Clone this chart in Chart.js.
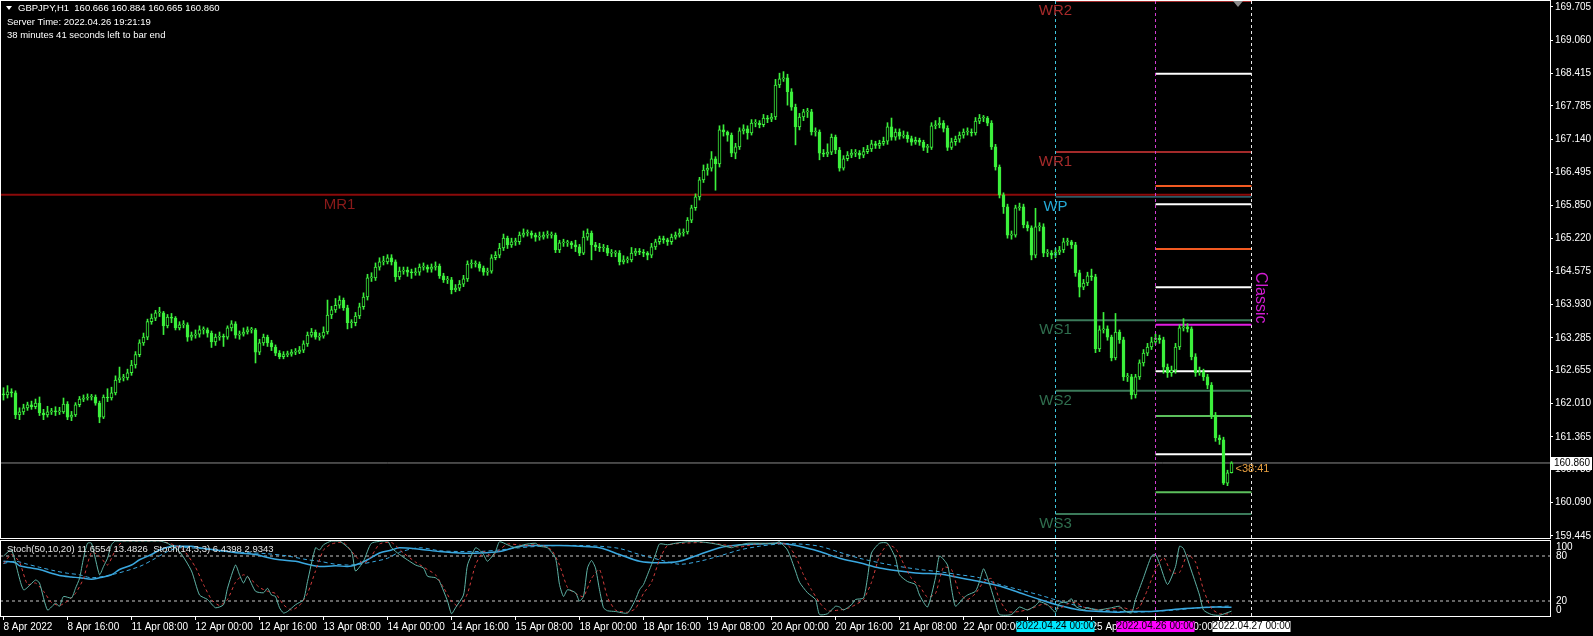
<!DOCTYPE html>
<html lang="en">
<head>
<meta charset="UTF-8">
<title>GBPJPY,H1</title>
<style>
  html, body { margin: 0; padding: 0; background: #000; overflow: hidden; }
  #price { position: absolute; left: 0; top: 0; }
  #stoch { position: absolute; left: 0; top: 539px; }
</style>
</head>
<body>
<canvas id="price" width="1593" height="539"></canvas>
<canvas id="stoch" width="1593" height="97"></canvas>
<script src="https://cdn.jsdelivr.net/npm/chart.js@4.4.0/dist/chart.umd.min.js"></script>
<script>
'use strict';

// ---- data: H1 bars, 8 Apr 2022 00:00 .. 26 Apr 2022 19:00 (bar index = x) ----
var firstOpen = 162.20;
var closes = [
  162.18,162.24,162.22,161.79,161.85,161.93,161.99,161.95,162.02,161.83,
  161.79,161.85,161.87,161.85,161.85,162.00,161.75,161.79,161.99,162.10,
  162.12,162.14,162.14,162.02,161.75,162.14,162.12,162.22,162.47,162.51,
  162.51,162.61,162.76,162.96,163.19,163.30,163.60,163.67,163.77,163.77,
  163.52,163.69,163.67,163.48,163.54,163.54,163.30,163.34,163.36,163.44,
  163.44,163.38,163.21,163.30,163.32,163.30,163.48,163.56,163.34,163.36,
  163.40,163.44,163.44,163.01,163.19,163.30,163.19,163.11,162.99,162.92,
  162.96,162.97,163.01,163.01,163.05,163.17,163.34,163.40,163.30,163.32,
  163.40,163.73,163.83,163.92,164.02,163.87,163.58,163.58,163.71,163.89,
  164.08,164.45,164.45,164.66,164.76,164.76,164.84,164.76,164.47,164.58,
  164.60,164.56,164.55,164.56,164.66,164.66,164.62,164.66,164.68,164.49,
  164.41,164.41,164.22,164.25,164.33,164.43,164.72,164.72,164.72,164.64,
  164.56,164.58,164.84,164.89,165.03,165.22,165.09,165.15,165.15,165.28,
  165.32,165.32,165.28,165.24,165.24,165.28,165.28,165.28,164.99,165.13,
  165.13,165.13,165.09,165.05,164.93,165.24,165.32,165.09,165.05,165.03,
  165.03,164.93,164.93,164.93,164.76,164.80,164.80,164.93,164.97,164.95,
  164.93,164.89,165.05,165.15,165.21,165.19,165.15,165.24,165.28,165.32,
  165.34,165.57,165.81,166.02,166.35,166.54,166.58,166.76,166.66,167.32,
  167.28,167.22,166.87,166.99,167.30,167.34,167.26,167.45,167.45,167.42,
  167.55,167.53,167.57,168.19,168.31,168.33,168.06,167.76,167.38,167.57,
  167.67,167.67,167.28,167.28,166.87,166.85,166.89,167.18,166.93,166.58,
  166.76,166.83,166.87,166.87,166.83,166.90,166.95,167.05,167.02,167.06,
  167.10,167.38,167.18,167.28,167.20,167.22,167.15,167.08,167.12,167.08,
  166.98,166.98,167.40,167.42,167.45,167.35,166.98,167.09,167.14,167.22,
  167.28,167.28,167.26,167.49,167.55,167.55,167.45,166.99,166.60,166.06,
  165.83,165.28,165.28,165.81,165.83,165.48,165.42,164.89,165.44,165.44,
  164.93,164.93,164.89,164.95,164.99,165.15,165.15,165.09,164.55,164.27,
  164.35,164.49,164.47,163.07,163.44,163.46,163.30,162.90,163.40,163.25,
  162.53,162.53,162.18,162.53,162.80,162.99,163.11,163.21,163.28,163.25,
  162.72,162.61,162.66,163.11,163.48,163.50,163.46,162.92,162.61,162.63,
  162.53,162.37,161.79,161.35,161.31,160.47,160.67,160.86
];
var highs = [
  162.32,162.36,162.30,162.26,161.93,162.00,162.04,162.06,162.10,162.14,
  161.90,161.96,161.92,161.95,161.94,162.12,162.05,161.86,162.03,162.15,
  162.18,162.20,162.19,162.18,162.06,162.18,162.30,162.33,162.55,162.72,
  162.58,162.68,162.85,163.02,163.25,163.38,163.65,163.75,163.82,163.88,
  163.80,163.74,163.76,163.70,163.60,163.62,163.58,163.40,163.44,163.52,
  163.50,163.48,163.42,163.36,163.40,163.36,163.52,163.62,163.60,163.42,
  163.48,163.50,163.49,163.47,163.26,163.36,163.34,163.24,163.15,163.04,
  163.02,163.03,163.06,163.08,163.12,163.23,163.40,163.47,163.44,163.38,
  163.50,164.02,163.90,164.05,164.10,164.06,163.92,163.64,163.78,163.96,
  164.16,164.52,164.55,164.74,164.84,164.87,164.90,164.90,164.80,164.66,
  164.66,164.66,164.62,164.64,164.72,164.74,164.70,164.72,164.76,164.72,
  164.54,164.48,164.46,164.32,164.40,164.50,164.78,164.80,164.78,164.76,
  164.68,164.64,164.90,164.96,165.12,165.30,165.26,165.22,165.22,165.34,
  165.40,165.38,165.36,165.32,165.34,165.34,165.36,165.34,165.32,165.18,
  165.20,165.18,165.16,165.18,165.10,165.36,165.40,165.36,165.14,165.12,
  165.10,165.08,165.00,164.98,164.98,164.88,164.86,165.04,165.02,165.02,
  165.00,164.96,165.12,165.20,165.26,165.26,165.22,165.30,165.34,165.40,
  165.40,165.62,165.86,166.08,166.40,166.64,166.66,166.90,166.80,167.40,
  167.42,167.30,167.26,167.06,167.36,167.42,167.40,167.52,167.52,167.50,
  167.62,167.60,167.64,168.30,168.42,168.45,168.40,168.12,167.82,167.64,
  167.72,167.74,167.72,167.36,167.32,166.94,167.05,167.24,167.22,166.98,
  166.82,166.90,166.94,166.94,166.92,166.98,167.02,167.12,167.10,167.12,
  167.18,167.46,167.55,167.34,167.34,167.30,167.28,167.20,167.18,167.16,
  167.12,167.04,167.46,167.50,167.56,167.50,167.40,167.16,167.20,167.28,
  167.34,167.36,167.34,167.56,167.62,167.60,167.58,167.50,167.04,166.64,
  166.10,165.88,165.36,165.86,165.90,165.88,165.54,165.46,165.80,165.52,
  165.50,165.00,164.98,165.02,165.06,165.22,165.22,165.18,165.14,164.60,
  164.42,164.56,164.62,164.52,163.52,163.78,163.52,163.34,163.76,163.44,
  163.30,162.60,162.58,162.58,162.86,163.06,163.18,163.30,163.36,163.34,
  163.30,162.78,162.74,163.18,163.54,163.66,163.56,163.50,162.98,162.72,
  162.68,162.58,162.42,161.84,161.40,161.36,160.72,160.884
];
var lows = [
  162.08,162.12,162.14,161.72,161.70,161.80,161.88,161.90,161.91,161.78,
  161.70,161.75,161.80,161.78,161.80,161.82,161.70,161.68,161.76,161.95,
  162.05,162.08,162.08,161.98,161.64,161.72,162.05,162.08,162.18,162.42,
  162.45,162.47,162.56,162.70,162.92,163.14,163.25,163.55,163.62,163.70,
  163.35,163.48,163.58,163.44,163.44,163.48,163.22,163.24,163.28,163.30,
  163.36,163.30,163.10,163.14,163.24,163.12,163.26,163.42,163.28,163.26,
  163.32,163.36,163.38,162.80,162.96,163.14,163.12,163.04,162.94,162.88,
  162.88,162.92,162.93,162.96,162.98,163.00,163.12,163.30,163.26,163.24,
  163.28,163.36,163.66,163.78,163.86,163.82,163.46,163.48,163.52,163.66,
  163.84,164.02,164.38,164.40,164.60,164.70,164.72,164.70,164.38,164.42,
  164.52,164.48,164.44,164.50,164.50,164.60,164.56,164.56,164.60,164.44,
  164.36,164.34,164.14,164.18,164.20,164.28,164.38,164.64,164.66,164.58,
  164.50,164.50,164.54,164.80,164.84,164.98,165.02,165.04,165.08,165.10,
  165.24,165.26,165.22,165.16,165.18,165.20,165.22,165.22,164.94,164.94,
  165.06,165.06,165.02,164.96,164.88,164.90,165.18,164.80,164.98,164.96,
  164.96,164.88,164.86,164.86,164.70,164.72,164.74,164.76,164.88,164.90,
  164.86,164.80,164.84,165.00,165.10,165.12,165.08,165.10,165.20,165.24,
  165.26,165.30,165.52,165.76,165.96,166.30,166.44,166.52,166.15,166.60,
  167.20,167.10,166.80,166.76,166.94,167.24,167.14,167.22,167.38,167.36,
  167.38,167.46,167.48,167.52,168.14,168.26,167.80,167.70,167.03,167.32,
  167.50,167.56,167.22,167.20,166.74,166.80,166.80,166.84,166.86,166.52,
  166.54,166.72,166.78,166.80,166.76,166.78,166.86,166.90,166.96,166.96,
  167.02,167.04,167.12,167.12,167.14,167.16,167.08,167.02,167.04,167.02,
  166.92,166.88,166.94,167.34,167.36,167.28,166.92,166.94,167.02,167.08,
  167.16,167.22,167.20,167.22,167.44,167.48,167.40,166.94,166.54,166.00,
  165.70,165.22,165.20,165.24,165.76,165.42,165.36,164.80,164.84,165.36,
  164.86,164.86,164.82,164.84,164.90,164.94,165.08,165.02,164.48,164.08,
  164.22,164.30,164.40,163.00,163.02,163.38,163.24,162.84,162.86,163.18,
  162.46,162.44,162.10,162.12,162.48,162.74,162.94,163.06,163.16,163.18,
  162.60,162.52,162.54,162.60,163.06,163.42,163.40,162.86,162.54,162.56,
  162.46,162.30,161.72,161.28,161.22,160.44,160.42,160.665
];

// pivot levels
var weeklyNames = ['WR2', 'WR1', 'WP', 'WS1', 'WS2', 'WS3'];
var weeklyLevels = [169.82, 166.89, 166.02, 163.63, 162.26, 159.87];
var monthlyName = 'MR1';
var monthlyLevel = 166.06;
var dailyLevels = [168.41, 166.23, 165.88, 165.01, 164.27, 163.54, 162.64, 161.77, 161.03, 160.29];
var dailyKinds = ['w', 'o', 'w', 'o', 'w', 'm', 'w', 'g', 'w', 'g'];
var weekStartIdx = 263, dayStartIdx = 288, shiftIdx = 312;

// axes
var priceTicks = [169.705, 169.060, 168.415, 167.785, 167.140, 166.495, 165.850, 165.220,
  164.575, 163.930, 163.285, 162.655, 162.010, 161.365, 160.735, 160.090, 159.445];
var timeIdx = [0, 16, 32, 48, 64, 80, 96, 112, 128, 144, 160, 176, 192, 208, 224, 240, 256, 272, 288, 304];
var timeLabels = ['8 Apr 2022', '8 Apr 16:00', '11 Apr 08:00', '12 Apr 00:00', '12 Apr 16:00',
  '13 Apr 08:00', '14 Apr 00:00', '14 Apr 16:00', '15 Apr 08:00', '18 Apr 00:00', '18 Apr 16:00',
  '19 Apr 08:00', '20 Apr 00:00', '20 Apr 16:00', '21 Apr 08:00', '22 Apr 00:00', '22 Apr 16:00',
  '25 Apr 08:00', '26 Apr 00:00', '26 Apr 16:00'];
var markerIdx = [263, 288, 312];
var markerText = ['2022.04.24 00:00', '2022.04.26 00:00', '2022.04.27 00:00'];

// Stoch(14,3,3)
var fastX = [0,2,5,8,9,11,13,14,15,17, 18,19,20,21,22,24,25,26,27,28, 35,39,41,44,47,49,51,53,55,56,
  58,59,60,61,63,65,66,67,68,69, 70,71,73,75,76,78,79,80,82,84, 87,88,90,92,96,97,99,103,105,106,
  108,109,111,112,113,115,116,118,119,120, 121,123,124,126,128,130,133,134,136,138,
  139,140,141,143,144,145,146,147,148,149, 150,151,153,156,158,159,160,161,163,164,
  166,168,171,174,177,179,182,183,186,189, 193,194,196,198,199,201,203,204,206,208,
  209,210,212,213,215,216,217,219,221,223, 224,226,228,229,231,233,234,236,237,238,
  240,241,243,244,245,246,248,249,252,254, 256,258,259,261,263,264,266,267,268,270,
  271,273,274,276,277,279,280,282,283,285, 287,288,289,291,293,294,295,297,299,300, 302,304,307];
var fastVal = [80,88,35,48,44,8,17,13,26,24, 37,50,77,97,97,55,66,77,95,100, 100,100,97,86,60,28,22,11,15,37,
  68,55,44,53,33,31,37,28,26,11, 4,6,15,22,46,91,88,95,100,100, 86,60,73,97,100,91,82,68,64,53,
  51,46,20,3,11,28,68,91,88,82, 73,86,99,95,91,95,97,93,91,77,
  42,26,35,31,20,26,64,74,64,35, 11,7,6,4,22,35,42,55,82,96,
  95,97,99,99,97,95,91,93,97,97, 97,99,88,60,45,31,22,2,3,13,
  12,8,15,22,24,51,84,97,97,77, 55,46,42,28,12,51,80,68,37,13,
  24,28,33,46,63,51,17,2,2,12, 8,14,19,15,5,17,19,23,13,8,
  11,8,8,10,11,13,8,4,22,51, 80,82,70,42,66,93,90,60,28,8, 2,1,6.44];
var fastSigX = [0,2,4,6,8,10,12,14,16,18, 20,22,24,26,28,30,39,42,45,48, 50,52,54,56,58,60,62,64,66,68,
  70,72,74,76,78,80,82,85,88,90, 92,94,97,100,103,106,108,110,112,114, 116,118,120,122,124,126,130,134,137,139,
  141,143,145,147,149,151,153,156,158,160, 162,164,166,170,176,180,184,188,194,196,
  198,200,202,204,206,209,211,213,215,217, 219,221,223,225,227,229,231,233,235,237,
  239,241,243,245,247,249,251,254,257,260, 262,264,266,268,270,272,276,280,282,284,
  286,288,290,292,294,296,298,300,302,304, 307];
var fastSigVal = [70,82,72,42,44,33,18,14,20,30, 50,85,80,68,88,100,100,96,88,65, 42,22,14,22,45,55,48,38,33,30,
  15,8,14,30,60,88,96,98,80,70, 80,96,98,84,72,62,55,38,20,12, 30,68,86,80,88,96,94,95,88,68,
  38,30,26,50,62,25,8,5,10,30, 45,75,94,97,98,95,92,96,97,95,
  80,55,35,18,7,8,10,15,22,45, 80,95,90,70,50,40,25,30,65,62,
  30,22,30,45,50,22,6,6,10,16, 12,10,16,18,12,9,9,11,8,12,
  35,62,78,58,58,82,72,35,10,3, 2.93];

// Stoch(50,10,20)
var slowX = [0,3,4,7,9,12,14,17,19,22, 24,27,29,32,34,37,39,42,44,47, 49,53,56,59,63,66,69,73,76,79,
  83,86,88,91,94,97,99,104,109,114, 119,124,129,134,139,144,149,154,159,164,
  169,174,179,184,189,194,199,204,209,214, 219,224,229,234,239,244,249,254,259,264,
  269,274,279,282,287,293,299,303,307];
var slowVal = [73,71,67,64,62,57,54,52,51,49, 51,55,62,68,75,82,88,93,93,93, 91,88,86,84,82,78,75,73,69,66,
  67,66,68,75,84,88,91,89,86,84, 84,86,93,94,94,93,91,82,73,71,
  73,82,91,95,96,97,93,86,77,71, 64,60,57,56,51,46,40,31,22,14,
  8,6,5,6,6,9,11,12,11.66];
var slowSigX = [0,3,6,9,13,16,19,22,27,34, 38,41,44,49,54,59,66,71,76,79, 83,86,89,93,96,99,104,109,114,119,
  124,129,134,139,144,149,154,159,164,169, 174,179,184,189,194,199,204,209,214,219,
  224,229,234,239,244,249,254,259,264,269, 274,279,282,287,293,299,307];
var slowSigVal = [70,73,69,65,60,57,55,51,55,66, 77,86,91,90,87,85,83,80,75,73, 69,68,69,73,77,85,91,87,86,86,
  88,91,93,94,94,93,90,82,75,69, 73,80,88,93,96,96,93,85,77,71,
  66,62,59,55,51,42,35,28,20,13, 8,6,5,6,8,11,13.48];
var stochLevels = [100, 80, 20, 0];

// ---- styling ----
var FONT = "'Liberation Sans', Arial, sans-serif";
var CANDLE = '#3cf03c';
var X_MIN = -0.875, X_MAX = 386.625;
var Y_MIN = 159.405, Y_MAX = 169.82;
var weeklyColors = ['#a32a2a', '#a32a2a', '#4e9fb4', '#3b7a5a', '#3b7a5a', '#3b7a5a'];
var weeklyTextColors = ['#a52a2a', '#a52a2a', '#25a9d6', '#2f6e4e', '#2f6e4e', '#2f6e4e'];
var dailyColors = { w: '#ffffff', o: '#f25a22', m: '#e21ce2', g: '#5cbf5c' };
var markerColors = ['#3fc6e0', '#d23cd2', '#e8e8e8'];
var markerBoxColors = ['#00e8ff', '#ff00ff', '#ffffff'];

function pts(xs, ys) {
  return xs.map(function (x, i) { return { x: x, y: ys[i] }; });
}

function hLine(value, from, to, color, width, order, dash) {
  return {
    type: 'line', data: [{ x: from, y: value }, { x: to, y: value }],
    borderColor: color, borderWidth: width, borderDash: dash || [],
    pointRadius: 0, order: order || 5
  };
}

var opens = closes.map(function (c, i) { return i === 0 ? firstOpen : closes[i - 1]; });

var priceSets = [{
  type: 'bar', order: 0,
  data: closes.map(function (c, i) { return { x: i, y: [opens[i], c] }; }),
  backgroundColor: closes.map(function (c, i) { return c >= opens[i] ? '#000' : CANDLE; }),
  borderColor: CANDLE, borderWidth: 1, borderSkipped: false,
  barThickness: 3, grouped: false, minBarLength: 1
}, {
  type: 'bar', order: 1,
  data: closes.map(function (c, i) { return { x: i, y: [lows[i], highs[i]] }; }),
  backgroundColor: CANDLE, borderWidth: 0, barThickness: 1, grouped: false
}];

priceSets.push(hLine(monthlyLevel, X_MIN, shiftIdx, '#8b0a0a', 2, 6));
weeklyLevels.forEach(function (v, k) {
  priceSets.push(hLine(v, weekStartIdx, shiftIdx, weeklyColors[k], k === 2 ? 1 : 2, 5));
});
dailyLevels.forEach(function (v, k) {
  priceSets.push(hLine(v, dayStartIdx, shiftIdx, dailyColors[dailyKinds[k]], 2, 4));
});
priceSets.push(hLine(closes[closes.length - 1], X_MIN, X_MAX, '#8a8a8a', 1, 7));

function vMarkers(chart) {
  var ctx = chart.ctx, a = chart.chartArea, xs = chart.scales.x;
  ctx.save();
  ctx.lineWidth = 1;
  ctx.setLineDash([3, 3]);
  markerIdx.forEach(function (idx, k) {
    var x = Math.floor(xs.getPixelForValue(idx)) + 0.5;
    ctx.strokeStyle = markerColors[k];
    ctx.beginPath();
    ctx.moveTo(x, a.top);
    ctx.lineTo(x, a.bottom);
    ctx.stroke();
  });
  ctx.restore();
}

var priceDecor = {
  id: 'priceDecor',
  afterDatasetsDraw: function (chart) {
    var ctx = chart.ctx, xs = chart.scales.x, ys = chart.scales.y;
    vMarkers(chart);
    ctx.save();
    ctx.textAlign = 'center';
    ctx.textBaseline = 'middle';
    ctx.font = '15px ' + FONT;
    var wx = xs.getPixelForValue(weekStartIdx);
    weeklyNames.forEach(function (name, k) {
      ctx.fillStyle = weeklyTextColors[k];
      ctx.fillText(name, wx, ys.getPixelForValue(weeklyLevels[k]) + 10);
    });
    ctx.fillStyle = '#8b1a1a';
    ctx.fillText(monthlyName, xs.getPixelForValue(84), ys.getPixelForValue(monthlyLevel) + 10);

    // bar timer
    var last = closes[closes.length - 1];
    ctx.textAlign = 'left';
    ctx.font = '11px ' + FONT;
    ctx.fillStyle = '#e8a040';
    ctx.fillText('<38:41', xs.getPixelForValue(308), ys.getPixelForValue(last) + 6);

    // vertical "Classic" tag
    ctx.translate(xs.getPixelForValue(314.2), 272);
    ctx.rotate(Math.PI / 2);
    ctx.font = '16px ' + FONT;
    ctx.fillStyle = '#d21cd2';
    ctx.fillText('Classic', 0, 0);
    ctx.restore();
  },
  afterDraw: function (chart) {
    var ctx = chart.ctx, a = chart.chartArea, ys = chart.scales.y;
    ctx.save();
    ctx.strokeStyle = '#fff';
    ctx.lineWidth = 1;
    ctx.strokeRect(0.5, 0.5, a.right, a.bottom);

    // chart shift marker
    ctx.fillStyle = '#8c8c8c';
    ctx.beginPath();
    ctx.moveTo(1233, 1); ctx.lineTo(1243, 1); ctx.lineTo(1238, 7); ctx.closePath();
    ctx.fill();

    // header
    ctx.fillStyle = '#fff';
    ctx.beginPath();
    ctx.moveTo(6, 6); ctx.lineTo(12, 6); ctx.lineTo(9, 10); ctx.closePath();
    ctx.fill();
    ctx.font = '9.5px ' + FONT;
    ctx.textBaseline = 'middle';
    ctx.textAlign = 'left';
    ctx.fillText('GBPJPY,H1  160.666 160.884 160.665 160.860', 18, 8);
    ctx.fillText('Server Time: 2022.04.26 19:21:19', 7, 22);
    ctx.fillText('38 minutes 41 seconds left to bar end', 7, 35);

    // last price box on the axis
    var y = Math.round(ys.getPixelForValue(closes[closes.length - 1]));
    ctx.fillStyle = '#fff';
    ctx.fillRect(a.right + 1, y - 6, 41, 13);
    ctx.fillStyle = '#000';
    ctx.font = '10px ' + FONT;
    ctx.fillText('160.860', a.right + 4, y + 0.5);
    ctx.restore();
  }
};

new Chart(document.getElementById('price'), {
  type: 'bar',
  data: { datasets: priceSets },
  options: {
    responsive: false,
    animation: false,
    devicePixelRatio: 1,
    layout: { padding: { top: 1, bottom: 1, left: 0, right: 0 } },
    plugins: { legend: { display: false }, tooltip: { enabled: false } },
    scales: {
      x: { type: 'linear', min: X_MIN, max: X_MAX, offset: false, display: false },
      y: {
        position: 'right', min: Y_MIN, max: Y_MAX,
        afterBuildTicks: function (s) { s.ticks = priceTicks.map(function (v) { return { value: v }; }); },
        afterFit: function (s) { s.width = 43; s.paddingTop = 0; s.paddingBottom = 0; },
        grid: { drawOnChartArea: false, drawTicks: true, tickLength: 3, color: '#fff' },
        border: { display: true, color: '#fff' },
        ticks: {
          color: '#fff', padding: 2, autoSkip: false,
          font: { family: FONT, size: 10 },
          callback: function (v) { return v.toFixed(3); }
        }
      }
    }
  },
  plugins: [priceDecor]
});

var stochDecor = {
  id: 'stochDecor',
  afterDatasetsDraw: function (chart) { vMarkers(chart); },
  afterDraw: function (chart) {
    var ctx = chart.ctx, a = chart.chartArea, xs = chart.scales.x, ys = chart.scales.y;
    ctx.save();
    ctx.strokeStyle = '#fff';
    ctx.lineWidth = 1;
    ctx.strokeRect(0.5, a.top - 0.5, a.right, a.bottom - a.top + 1);

    ctx.font = '9.5px ' + FONT;
    ctx.textBaseline = 'middle';
    ctx.textAlign = 'left';
    ctx.fillStyle = '#e6e6e6';
    ctx.fillText('Stoch(50,10,20) 11.6554 13.4826  Stoch(14,3,3) 6.4398 2.9343', 7, 10);

    ctx.fillStyle = '#fff';
    ctx.font = '10px ' + FONT;
    stochLevels.forEach(function (v) {
      var y = Math.min(Math.max(ys.getPixelForValue(v), a.top + 6), a.bottom - 6);
      ctx.fillText(String(v), a.right + 6, y);
    });

    // date boxes of the vertical markers
    ctx.textAlign = 'center';
    markerIdx.forEach(function (idx, k) {
      var x = Math.floor(xs.getPixelForValue(idx)) + 0.5;
      ctx.fillStyle = markerBoxColors[k];
      ctx.fillRect(x - 39, a.bottom + 5, 78, 11);
      ctx.fillStyle = '#000';
      ctx.fillText(markerText[k], x, a.bottom + 10.5);
    });
    ctx.restore();
  }
};

new Chart(document.getElementById('stoch'), {
  type: 'line',
  data: {
    datasets: [
      hLine(80, X_MIN, X_MAX, '#c8c8c8', 1, 9, [3, 3]),
      hLine(20, X_MIN, X_MAX, '#c8c8c8', 1, 9, [3, 3]),
      { data: pts(slowSigX, slowSigVal), borderColor: '#3aa8e0', borderWidth: 1, borderDash: [4, 3], pointRadius: 0, tension: 0.3, order: 4 },
      { data: pts(slowX, slowVal), borderColor: '#3aa8e0', borderWidth: 1.5, pointRadius: 0, tension: 0.3, order: 3 },
      { data: pts(fastSigX, fastSigVal), borderColor: '#d23c3c', borderWidth: 1, borderDash: [3, 3], pointRadius: 0, tension: 0.2, order: 2 },
      { data: pts(fastX, fastVal), borderColor: '#5fb3a6', borderWidth: 1, pointRadius: 0, tension: 0.2, order: 1 }
    ]
  },
  options: {
    responsive: false,
    animation: false,
    devicePixelRatio: 1,
    layout: { padding: { top: 2, right: 43, left: 0, bottom: 0 } },
    plugins: { legend: { display: false }, tooltip: { enabled: false } },
    scales: {
      x: {
        type: 'linear', min: X_MIN, max: X_MAX, position: 'bottom', offset: false,
        afterBuildTicks: function (s) { s.ticks = timeIdx.map(function (v) { return { value: v }; }); },
        afterFit: function (s) { s.height = 20; s.paddingLeft = 0; s.paddingRight = 0; },
        grid: { drawOnChartArea: false, drawTicks: true, tickLength: 4, color: '#fff' },
        border: { display: true, color: '#fff' },
        ticks: {
          color: '#fff', align: 'start', padding: 1, autoSkip: false, maxRotation: 0,
          font: { family: FONT, size: 10 },
          callback: function (v, i) { return timeLabels[i]; }
        }
      },
      y: { min: 0, max: 100, display: false }
    }
  },
  plugins: [stochDecor]
});
</script>
</body>
</html>
